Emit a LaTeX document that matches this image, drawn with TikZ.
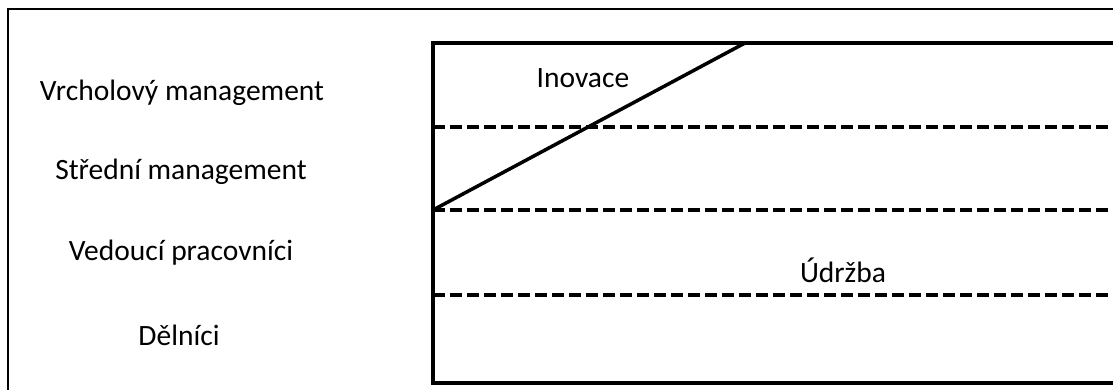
\documentclass[tikz,border=0pt]{standalone}
\usepackage{fontspec}
\setmainfont{Carlito}
\begin{document}
\begin{tikzpicture}[x=1pt,y=-1pt,
  lbl/.style={font=\fontsize{29.5}{35}\selectfont, inner sep=0pt, anchor=center},
  frame/.style={line width=1.5pt},
  boxline/.style={line width=4pt},
  dashline/.style={line width=4pt, dash pattern=on 12pt off 5pt},
  diag/.style={line width=3.5pt}]
\useasboundingbox (0,0) rectangle (1113,390);
\clip (0,0) rectangle (1113,390);
\fill[white] (0,0) rectangle (1113,390);
% outer frame (cropped on right and bottom)
\draw[frame] (8,9) rectangle (1130,400);
% inner box corners
\coordinate (tl) at (433,43);
\coordinate (tr) at (1130,43);
\coordinate (bl) at (433,383);
\coordinate (br) at (1130,383);
\draw[boxline] (tr) -- (tl) -- (bl) -- (br);
% dashed band lines
\coordinate (d1l) at (433,127); \coordinate (d1r) at (1130,127);
\coordinate (d2l) at (433,210); \coordinate (d2r) at (1130,210);
\coordinate (d3l) at (433,295); \coordinate (d3r) at (1130,295);
\draw[dashline] (d1l) -- (d1r);
\draw[dashline] (d2l) -- (d2r);
\draw[dashline] (d3l) -- (d3r);
% diagonal
\coordinate (dtop) at (745,43);
\draw[diag] (d2l) -- (dtop);
% labels
\node[lbl] (vm) at (182,93) {Vrcholový management};
\node[lbl] (sm) at (181,172) {Střední management};
\node[lbl] (vp) at (181,253) {Vedoucí pracovníci};
\node[lbl] (de) at (179,335) {Dělníci};
\node[lbl] (in) at (583,78) {Inovace};
\node[lbl] (ud) at (843,270) {Údržba};
\end{tikzpicture}
\end{document}
